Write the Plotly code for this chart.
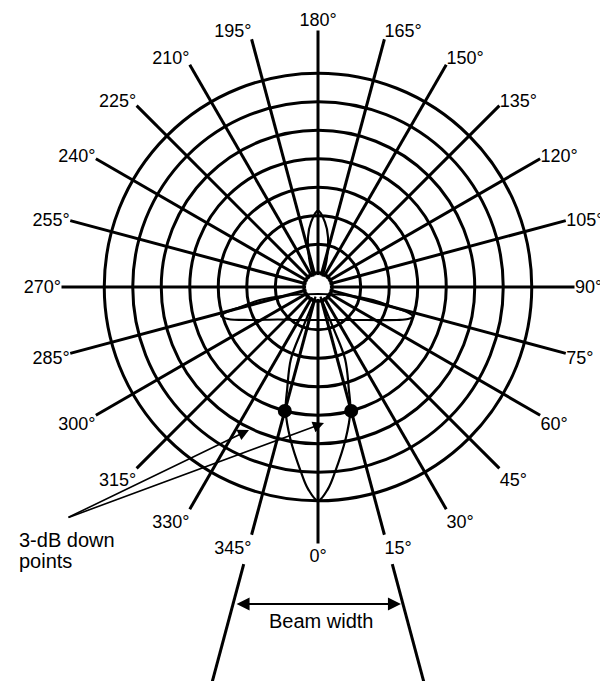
import math
import plotly.graph_objects as go

# ---------------- data ----------------
angles = list(range(0, 360, 15))
angle_labels = [f"{a}°" for a in angles]
ring_values = [0.5, 1.5, 2.5, 3.5, 4.5, 5.5, 6.5, 7.5]

# main lobe (pointing to 0°)
main_theta = [346, 341, 339.5, 339.4, 343.2, 345.4, 349.7, 354.75, 357.2, 0,
              2.8, 5.25, 10.3, 14.6, 16.8, 20.6, 20.5, 19, 14]
main_r = [0.35, 0.9, 1.6, 2.7, 3.74, 4.5, 5.42, 6.52, 7.1, 7.5,
          7.1, 6.52, 5.42, 4.5, 3.74, 2.7, 1.6, 0.9, 0.35]

# back lobe (pointing to 180°)
back_theta = [157, 162, 168.7, 173.9, 180, 186.1, 191.3, 198, 203]
back_r = [0.4, 0.96, 1.79, 2.29, 2.68, 2.29, 1.79, 0.96, 0.4]

# side lobes (flattened loop across 90° / 270°)
side_theta = [286.64, 285.23, 284.71, 282.63, 285.33, 0, 74.67, 76.70, 74.78, 74.31,
              72.75, 70.43, 67.33, 56.04, 31.22, 0, 328.78, 309.09, 295.89, 289.57, 286.64]
side_r = [3.552, 3.273, 2.902, 2.086, 1.128, 0.246, 1.128, 1.983, 2.873, 3.244,
          3.490, 3.352, 3.004, 2.073, 1.354, 1.158, 1.354, 1.808, 2.652, 3.352, 3.552]

# 3-dB down points
dot_theta = [345, 15]
dot_r = [4.5, 4.5]

# small white hub in the centre
hub_theta = list(range(0, 361, 10))
hub_r = [0.42] * len(hub_theta)

# ---------------- geometry ----------------
W, H = 608, 681
SHIFT = 8                   # default page margin that offsets the plot on screen
CX, CY = 318, 287           # centre of the polar plot, screen px
UNIT = 28.5                 # px per radial unit
RMAX = 9.0
R_PX = RMAX * UNIT

FONT = "Liberation Sans, Arial, Helvetica, sans-serif"


def px(x, y):
    """screen pixel -> paper coordinates"""
    return (x - SHIFT) / W, 1 - (y - SHIFT) / H


fig = go.Figure()

fig.add_trace(go.Scatterpolar(theta=hub_theta, r=hub_r, mode="lines", fill="toself",
                              fillcolor="white", line=dict(color="white", width=0),
                              hoverinfo="skip"))
line_style = dict(color="black", width=2.2, shape="spline", smoothing=1.0)
fig.add_trace(go.Scatterpolar(theta=main_theta, r=main_r, mode="lines", line=line_style))
fig.add_trace(go.Scatterpolar(theta=back_theta, r=back_r, mode="lines", line=line_style))
fig.add_trace(go.Scatterpolar(theta=side_theta, r=side_r, mode="lines", line=line_style))
fig.add_trace(go.Scatterpolar(theta=dot_theta, r=dot_r, mode="markers",
                              marker=dict(color="black", size=14)))

x0 = (CX - SHIFT - R_PX) / W
x1 = (CX - SHIFT + R_PX) / W
y0 = 1 - (CY - SHIFT + R_PX) / H
y1 = 1 - (CY - SHIFT - R_PX) / H

fig.update_layout(
    width=W, height=H,
    margin=dict(l=0, r=0, t=0, b=0),
    paper_bgcolor="white",
    showlegend=False,
    font=dict(family=FONT, color="black"),
    polar=dict(
        domain=dict(x=[x0, x1], y=[y0, y1]),
        bgcolor="white",
        radialaxis=dict(range=[0, RMAX], tickmode="array", tickvals=ring_values,
                        showticklabels=False, ticks="", showline=False,
                        gridcolor="black", gridwidth=3.4),
        angularaxis=dict(rotation=270, direction="counterclockwise",
                         tickmode="array", tickvals=angles, ticktext=angle_labels,
                         ticks="", showline=False, gridcolor="black", gridwidth=3.4,
                         tickfont=dict(size=18, family=FONT, color="black")),
    ),
)

# beam-width lines: continuation of the 345° and 15° spokes
shapes = []
for a in (345, 15):
    rad = math.radians(a)
    r0, r1 = 287, 440
    xa, ya = CX + r0 * math.sin(rad), CY + r0 * math.cos(rad)
    xb, yb = CX + r1 * math.sin(rad), CY + r1 * math.cos(rad)
    (pa, qa), (pb, qb) = px(xa, ya), px(xb, yb)
    shapes.append(dict(type="line", xref="paper", yref="paper", x0=pa, y0=qa, x1=pb, y1=qb,
                       line=dict(color="black", width=3)))
fig.update_layout(shapes=shapes)

annotations = []
# 3-dB text
for txt, ty in (("3-dB down", 540), ("points", 561)):
    ax_, ay_ = px(17, ty)
    annotations.append(dict(x=ax_, y=ay_, xref="paper", yref="paper", text=txt,
                            showarrow=False, xanchor="left", yanchor="middle",
                            font=dict(size=20, family=FONT, color="black")))
# arrows to the 3-dB points
tail = (67, 518)
for head in ((249, 430), (324, 423)):
    hx, hy = px(*head)
    annotations.append(dict(x=hx, y=hy, xref="paper", yref="paper", text="",
                            showarrow=True, arrowhead=2, arrowsize=1.4, arrowwidth=1.6,
                            arrowcolor="black", ax=tail[0] - head[0], ay=tail[1] - head[1],
                            standoff=0))
# beam width double arrow
by = 604
t15 = math.tan(math.radians(15))
lx = CX - (by - CY) * t15 + 2
rx = CX + (by - CY) * t15 - 2
hx, hy = px(rx, by)
annotations.append(dict(x=hx, y=hy, xref="paper", yref="paper", text="",
                        showarrow=True, arrowhead=2, arrowside="end+start", arrowsize=1.3,
                        arrowwidth=2, arrowcolor="black", ax=lx - rx, ay=0, standoff=0,
                        startstandoff=0))
bx, byy = px(321, 621)
annotations.append(dict(x=bx, y=byy, xref="paper", yref="paper", text="Beam width",
                        showarrow=False, xanchor="center", yanchor="middle",
                        font=dict(size=20, family=FONT, color="black")))
fig.update_layout(annotations=annotations)

fig.write_html("out.html")
